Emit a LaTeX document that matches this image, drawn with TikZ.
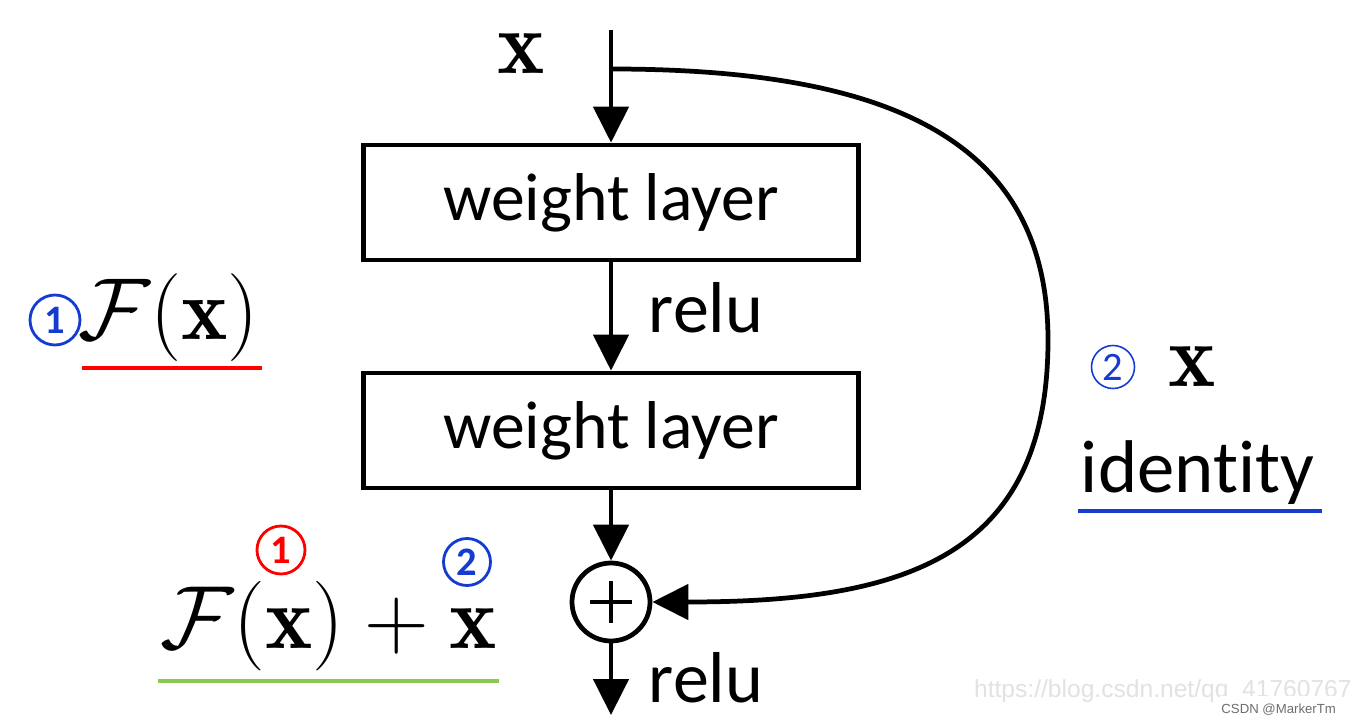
\RequirePackage{fix-cm}
\documentclass[tikz,border=0pt]{standalone}
\usepackage{amsmath}
\usepackage{fontspec}
\newfontfamily\calibri[Ligatures=NoCommon]{Carlito}
\newfontfamily\arial{Liberation Sans}
\usetikzlibrary{arrows.meta}
\usetikzlibrary{positioning}

\definecolor{numred}{RGB}{255,0,0}
\definecolor{numblue}{RGB}{20,60,210}
\definecolor{linegreen}{RGB}{140,200,80}
\definecolor{markgray}{RGB}{226,226,226}
\definecolor{namegray}{RGB}{110,110,110}

\begin{document}
\begin{tikzpicture}[line width=2.7pt, >={Triangle[length=0.72cm,width=0.7cm]},
	layer/.style={draw, minimum width=9.9cm, minimum height=2.3cm, font=\calibri\fontsize{38.5}{44}\selectfont},
	lbl/.style={inner sep=0, font=\calibri\fontsize{41}{46}\selectfont},
	mathlbl/.style={inner sep=0, font=\fontsize{51}{56}\selectfont},
	num/.style={draw, circle, inner sep=0, line width=1.6pt, minimum size=#1, font=\calibri\bfseries\fontsize{23}{25}\selectfont}]
\useasboundingbox (0,0) rectangle (27.08,-14.44);
\fill[white] (0,0) rectangle (27.08,-14.44);

\coordinate (in) at (12.22,-0.6);
\coordinate (split) at (12.22,-1.38);
\node [layer] (w1) at (12.22,-4.05) {weight layer};
\node [layer] (w2) at (12.22,-8.61) {weight layer};
\node [draw, circle, minimum size=1.56cm, inner sep=0] (sum) at (12.22,-12.04) {};
\draw (sum.center) +(-0.42,0) -- +(0.42,0);
\draw (sum.center) +(0,-0.42) -- +(0,0.42);
\coordinate (out) at (12.22,-14.3);

\draw [->] (in) -- (w1);
\draw [->] (w1) -- (w2);
\draw [->] (w2) -- (sum);
\draw [->] (sum) -- (out);
\draw [->] (split) .. controls (17.8,-1.38) and (20.96,-2.8) .. (20.96,-6.8)
	.. controls (20.96,-11.2) and (18,-12.04) .. (sum.east);

\node [mathlbl] (xin) at (10.42,-1.08) {$\mathbf{x}$};
\node [lbl, anchor=west] (relu1) at (12.93,-6.16) {relu};
\node [lbl, anchor=west] (relu2) at (12.93,-13.56) {relu};

% left: residual branch
\node [num=1cm, draw=numblue, text=numblue] (n1) at (1.1,-6.4) {1};
\node [mathlbl, font=\fontsize{50}{55}\selectfont] (fx) at (3.37,-6.36) {$\mathcal{F}(\mathbf{x})$};
\draw [numred, line width=2pt] (1.64,-7.36) -- (5.24,-7.36);

% right: shortcut
\node [num=0.86cm, draw=numblue, text=numblue, line width=0.9pt, font=\calibri\fontsize{23}{25}\selectfont] (n2) at (22.26,-7.34) {2};
\node [mathlbl] (xid) at (23.84,-7.34) {$\mathbf{x}$};
\node [lbl, font=\calibri\fontsize{42.5}{48}\selectfont] (idt) at (23.95,-9.45) {identity};
\draw [numblue, line width=2pt] (21.56,-10.22) -- (26.44,-10.22);

% bottom: sum
\node [mathlbl] (fsum) at (6.57,-12.52) {$\mathcal{F}(\mathbf{x}) + \mathbf{x}$};
\node [num=0.96cm, draw=numred, text=numred] (n1b) at (5.62,-11.0) {1};
\node [num=0.94cm, draw=numblue, text=numblue] (n2b) at (9.34,-11.24) {2};
\draw [linegreen, line width=2pt] (3.16,-13.62) -- (9.98,-13.62);

% watermarks
\node [anchor=base east, inner sep=0, text=markgray, font=\arial\fontsize{14}{16}\selectfont] (url) at (27.08,-13.94) {https://blog.csdn.net/qq\_41760767};
\node [anchor=base east, fill=white, inner xsep=1pt, inner ysep=4pt, text=namegray, font=\arial\fontsize{7.5}{9}\selectfont] (csdn) at (26.8,-14.26) {CSDN @MarkerTm};
\end{tikzpicture}
\end{document}
